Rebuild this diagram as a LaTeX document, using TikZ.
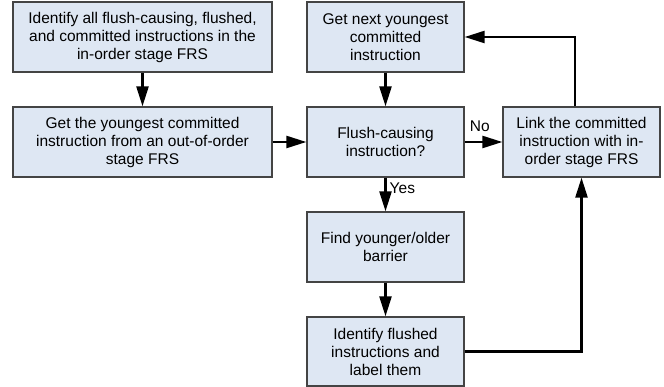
\documentclass[tikz,border=0pt]{standalone}
\usepackage{fontspec}
\setmainfont{Liberation Sans}
\usetikzlibrary{arrows.meta}
\definecolor{boxfill}{RGB}{222,231,243}
\definecolor{boxline}{RGB}{68,68,68}
\tikzset{
  stepbox/.style={draw=boxline, line width=1.3pt, fill=boxfill,
    minimum height=70pt, inner sep=0pt, align=center,
    font=\fontsize{15.5}{18}\selectfont},
  widebox/.style={stepbox, minimum width=259pt},
  narrowbox/.style={stepbox, minimum width=157pt},
  flow/.style={line width=2.4pt, -{Triangle[length=20pt,width=12pt]}},
  tag/.style={font=\fontsize{15.5}{18}\selectfont, inner sep=1pt}
}
\begin{document}
\begin{tikzpicture}[x=1pt,y=-1pt]
\useasboundingbox (0,0) rectangle (664,387);

% process steps
\node[widebox] (b1) at (142.5,37)
  {Identify all flush-causing, flushed,\\and committed instructions in the\\in-order stage FRS};
\node[widebox] (b2) at (142.5,142)
  {Get the youngest committed\\instruction from an out-of-order\\stage FRS};
\node[narrowbox] (b3) at (385.5,37)
  {Get next youngest\\committed\\instruction};
\node[narrowbox] (b4) at (385.5,142)
  {Flush-causing\\instruction?};
\node[narrowbox] (b5) at (581.5,142)
  {Link the committed\\instruction with in-\\order stage FRS};
\node[narrowbox] (b6) at (385.5,247)
  {Find younger/older\\barrier};
\node[narrowbox, minimum height=69pt] (b7) at (385.5,351.5)
  {Identify flushed\\instructions and\\label them};

% control flow
\draw[flow] (b1) -- (b2);
\draw[flow] (b2) -- (b4);
\draw[flow] (b3) -- (b4);
\draw[flow] (b4) -- node[tag, pos=0.4, above=8pt] {No} (b5);
\draw[flow] (b4) -- node[tag, pos=0.3, right=2pt] {Yes} (b6);
\draw[flow] (b6) -- (b7);
\draw[flow] (b7) -| (b5);
\draw[flow] ([xshift=-6.5pt]b5.north) |- (b3.east);
\end{tikzpicture}
\end{document}
